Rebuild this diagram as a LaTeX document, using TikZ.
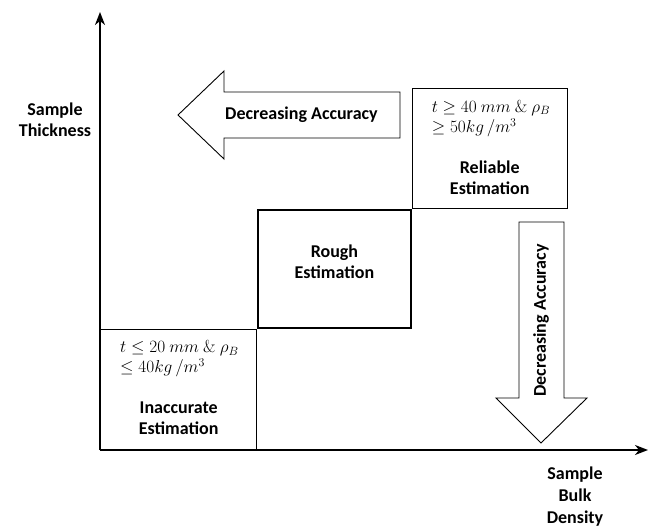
\documentclass[tikz,border=0pt]{standalone}
\usepackage[no-math]{fontspec}
\setmainfont{Carlito}
\usetikzlibrary{arrows.meta,positioning,calc}

\begin{document}
\begin{tikzpicture}[x=1pt,y=1pt,
    axis/.style={line width=1.6pt,-{Stealth[length=13pt,width=10pt,inset=4pt]}},
    cell/.style={draw,line width=1.3pt,inner sep=0pt},
    blkarrow/.style={draw,line width=0.9pt,line join=miter},
    lbl/.style={align=center,inner sep=0pt,font=\fontsize{18}{21}\selectfont\bfseries},
    cond/.style={align=left,inner sep=0pt,font=\fontsize{18.5}{20}\selectfont}]
  \useasboundingbox (-100,-80) rectangle (550,450);
  % axes
  \coordinate (O) at (0,0);
  \coordinate (Ytip) at (0,438);
  \coordinate (Xtip) at (548,0);
  \draw[axis] (O) -- (Ytip);
  \draw[axis] (O) -- (Xtip);
  \node[lbl] (ylab) at (-45,330) {Sample\\Thickness};
  \node[lbl] (xlab) at (475,-47) {Sample\\[1pt]Bulk\\[1pt]Density};
  % staircase of boxes
  \node[cell, anchor=south west, minimum width=156pt, minimum height=120pt] (inacc) at (O) {};
  \node[cell, anchor=south west, minimum width=153pt, minimum height=118pt] (rough) at (inacc.north east) {};
  \node[cell, anchor=south west, minimum width=155pt, minimum height=120pt] (rel) at (rough.north east) {};
  \node[cond, below right=12pt and 20pt of inacc.north west] (inaccC) {$t \leq 20\ mm\ \&\ \rho_B$\\$\leq 40kg\,/m^3$};
  \node[lbl, above=15pt of inacc.south] (inaccL) {Inaccurate\\Estimation};
  \node[lbl] (roughL) at ([yshift=7pt]rough.center) {Rough\\Estimation};
  \node[cond, below right=12pt and 20pt of rel.north west] (relC) {$t \geq 40\ mm\ \&\ \rho_B$\\$\geq 50kg\,/m^3$};
  \node[lbl, above=15pt of rel.south] (relL) {Reliable\\Estimation};
  % block arrows
  \coordinate (LA) at (78,335);
  \draw[blkarrow] (LA) -- ++(46,44) -- ++(0,-21) -- ++(176,0) -- ++(0,-46)
    -- ++(-176,0) -- ++(0,-21) -- cycle;
  \node[lbl, anchor=west] (laTxt) at ([xshift=47pt]LA) {Decreasing Accuracy};
  \coordinate (DA) at (441,7);
  \draw[blkarrow] (DA) -- ++(46,45) -- ++(-23,0) -- ++(0,176) -- ++(-45,0)
    -- ++(0,-176) -- ++(-23,0) -- cycle;
  \node[lbl, rotate=90, anchor=west] (daTxt) at ([yshift=46pt]DA) {Decreasing Accuracy};
\end{tikzpicture}
\end{document}
